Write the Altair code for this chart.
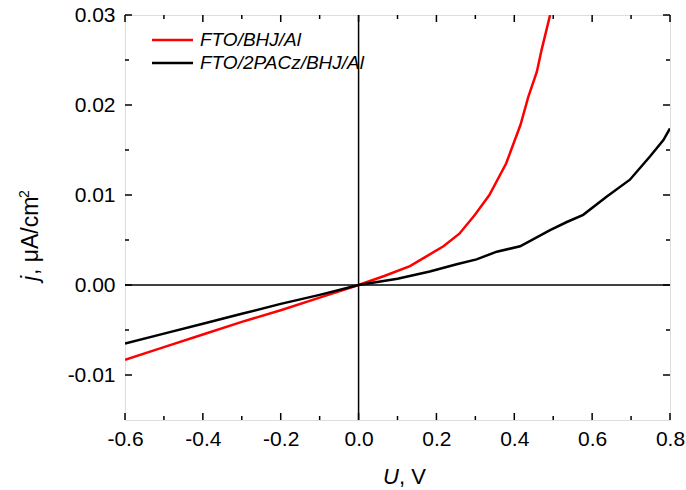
import altair as alt
import pandas as pd

# ---- data ----
u_red = [-0.6, -0.5, -0.4, -0.3, -0.2, -0.1, 0.0, 0.066, 0.132, 0.171, 0.218, 0.259,
         0.299, 0.336, 0.379, 0.416, 0.436, 0.458, 0.470, 0.492]
j_red = [-0.0083, -0.0069, -0.0055, -0.0041, -0.0028, -0.0014, 0.0, 0.0010, 0.0021, 0.0031,
         0.0043, 0.0057, 0.0078, 0.0100, 0.0135, 0.0178, 0.0209, 0.0237, 0.0261, 0.0300]
u_black = [-0.6, -0.5, -0.4, -0.3, -0.2, -0.1, 0.0, 0.1, 0.183, 0.252, 0.303, 0.355, 0.415,
           0.492, 0.535, 0.577, 0.637, 0.697, 0.749, 0.783, 0.8]
j_black = [-0.0065, -0.0054, -0.0043, -0.0032, -0.0021, -0.0011, 0.0, 0.0007, 0.0015, 0.0023,
           0.00285, 0.0037, 0.0043, 0.0061, 0.0070, 0.0078, 0.0098, 0.0117, 0.0143, 0.0161, 0.0174]
series_names = ["FTO/BHJ/Al", "FTO/2PACz/BHJ/Al"]
series_colors = ["#ff0000", "#000000"]

x_major = [-0.6, -0.4, -0.2, 0.0, 0.2, 0.4, 0.6, 0.8]
x_minor = [-0.5, -0.3, -0.1, 0.1, 0.3, 0.5, 0.7]
y_major = [-0.01, 0.0, 0.01, 0.02, 0.03]
y_minor = [-0.005, 0.005, 0.015, 0.025]

W, H = 545, 405
FONT = "Liberation Sans"

df = pd.concat([
    pd.DataFrame({"U": u_red, "j": j_red, "s": series_names[0]}),
    pd.DataFrame({"U": u_black, "j": j_black, "s": series_names[1]}),
])

xs = alt.Scale(domain=[-0.6, 0.8], nice=False, zero=False)
ys = alt.Scale(domain=[-0.015, 0.03], nice=False, zero=False)

xaxis = alt.Axis(values=x_major, title=None, ticks=False, tickSize=0, domain=False, grid=False,
                 labelExpr="replace(format(datum.value, '.1f'), '\u2212', '-')",
                 labelFont=FONT, labelFontSize=21, labelColor="black", labelPadding=8,
                 labelFlush=False)
yaxis = alt.Axis(values=y_major, title=None, ticks=False, tickSize=0, domain=False, grid=False,
                 labelExpr="replace(format(datum.value, '.2f'), '\u2212', '-')",
                 labelFont=FONT, labelFontSize=21, labelColor="black", labelPadding=10,
                 labelFlush=False)

lines = alt.Chart(df).mark_line(strokeWidth=2.5, clip=True).encode(
    x=alt.X("U:Q", scale=xs, axis=xaxis),
    y=alt.Y("j:Q", scale=ys, axis=yaxis),
    color=alt.Color("s:N", scale=alt.Scale(domain=series_names, range=series_colors), legend=None),
)

zero_v = alt.Chart(pd.DataFrame({"v": [0.0]})).mark_rule(color="black", strokeWidth=1.5).encode(
    x=alt.X("v:Q", scale=xs))
zero_h = alt.Chart(pd.DataFrame({"v": [0.0]})).mark_rule(color="black", strokeWidth=1.5).encode(
    y=alt.Y("v:Q", scale=ys))

def xticks(vals, length):
    d = pd.DataFrame({"v": vals})
    b = alt.Chart(d).mark_rule(color="black", strokeWidth=1.5).encode(
        x=alt.X("v:Q", scale=xs), y=alt.value(H), y2=alt.value(H - length))
    t = alt.Chart(d).mark_rule(color="black", strokeWidth=1.5).encode(
        x=alt.X("v:Q", scale=xs), y=alt.value(0), y2=alt.value(length))
    return [b, t]

def yticks(vals, length):
    d = pd.DataFrame({"v": vals})
    l = alt.Chart(d).mark_rule(color="black", strokeWidth=1.5).encode(
        y=alt.Y("v:Q", scale=ys), x=alt.value(0), x2=alt.value(length))
    r = alt.Chart(d).mark_rule(color="black", strokeWidth=1.5).encode(
        y=alt.Y("v:Q", scale=ys), x=alt.value(W), x2=alt.value(W - length))
    return [l, r]

ticks = xticks(x_major, 7) + xticks(x_minor, 4) + yticks(y_major, 7) + yticks(y_minor, 4)

def text(t, x, y, **kw):
    return alt.Chart(pd.DataFrame({"t": [t]})).mark_text(font=FONT, color="black", **kw).encode(
        text="t:N", x=alt.value(x), y=alt.value(y))

# legend
leg = []
for i, (name, col) in enumerate(zip(series_names, series_colors)):
    yy = 25 + i * 23
    leg.append(alt.Chart(pd.DataFrame({"t": [name]})).mark_rule(color=col, strokeWidth=2.5).encode(
        x=alt.value(27), x2=alt.value(68), y=alt.value(yy)))
    leg.append(text(name, 75, yy, fontSize=19, fontStyle="italic", align="left", baseline="middle"))

# axis titles
titles = [
    text("U", 258, 469, fontSize=22, fontStyle="italic", align="left", baseline="alphabetic"),
    text(", V", 274, 469, fontSize=22, align="left", baseline="alphabetic"),
    text("j", -87, 266, fontSize=23, fontStyle="italic", align="left", baseline="alphabetic", angle=270),
    text(", \u03bcA/cm", -87, 260, fontSize=23, align="left", baseline="alphabetic", angle=270),
    text("2", -96, 183, fontSize=14, align="left", baseline="alphabetic", angle=270),
]

chart = alt.layer(zero_v, zero_h, *ticks, lines, *leg, *titles).properties(
    width=W, height=H,
    autosize=alt.AutoSizeParams(type="none"),
    padding={"left": 125, "top": 15, "right": 16, "bottom": 70},
).configure_view(stroke="black", strokeWidth=2).configure(background="white")

chart.save("out.html", embed_options={"renderer": "svg", "actions": False})
